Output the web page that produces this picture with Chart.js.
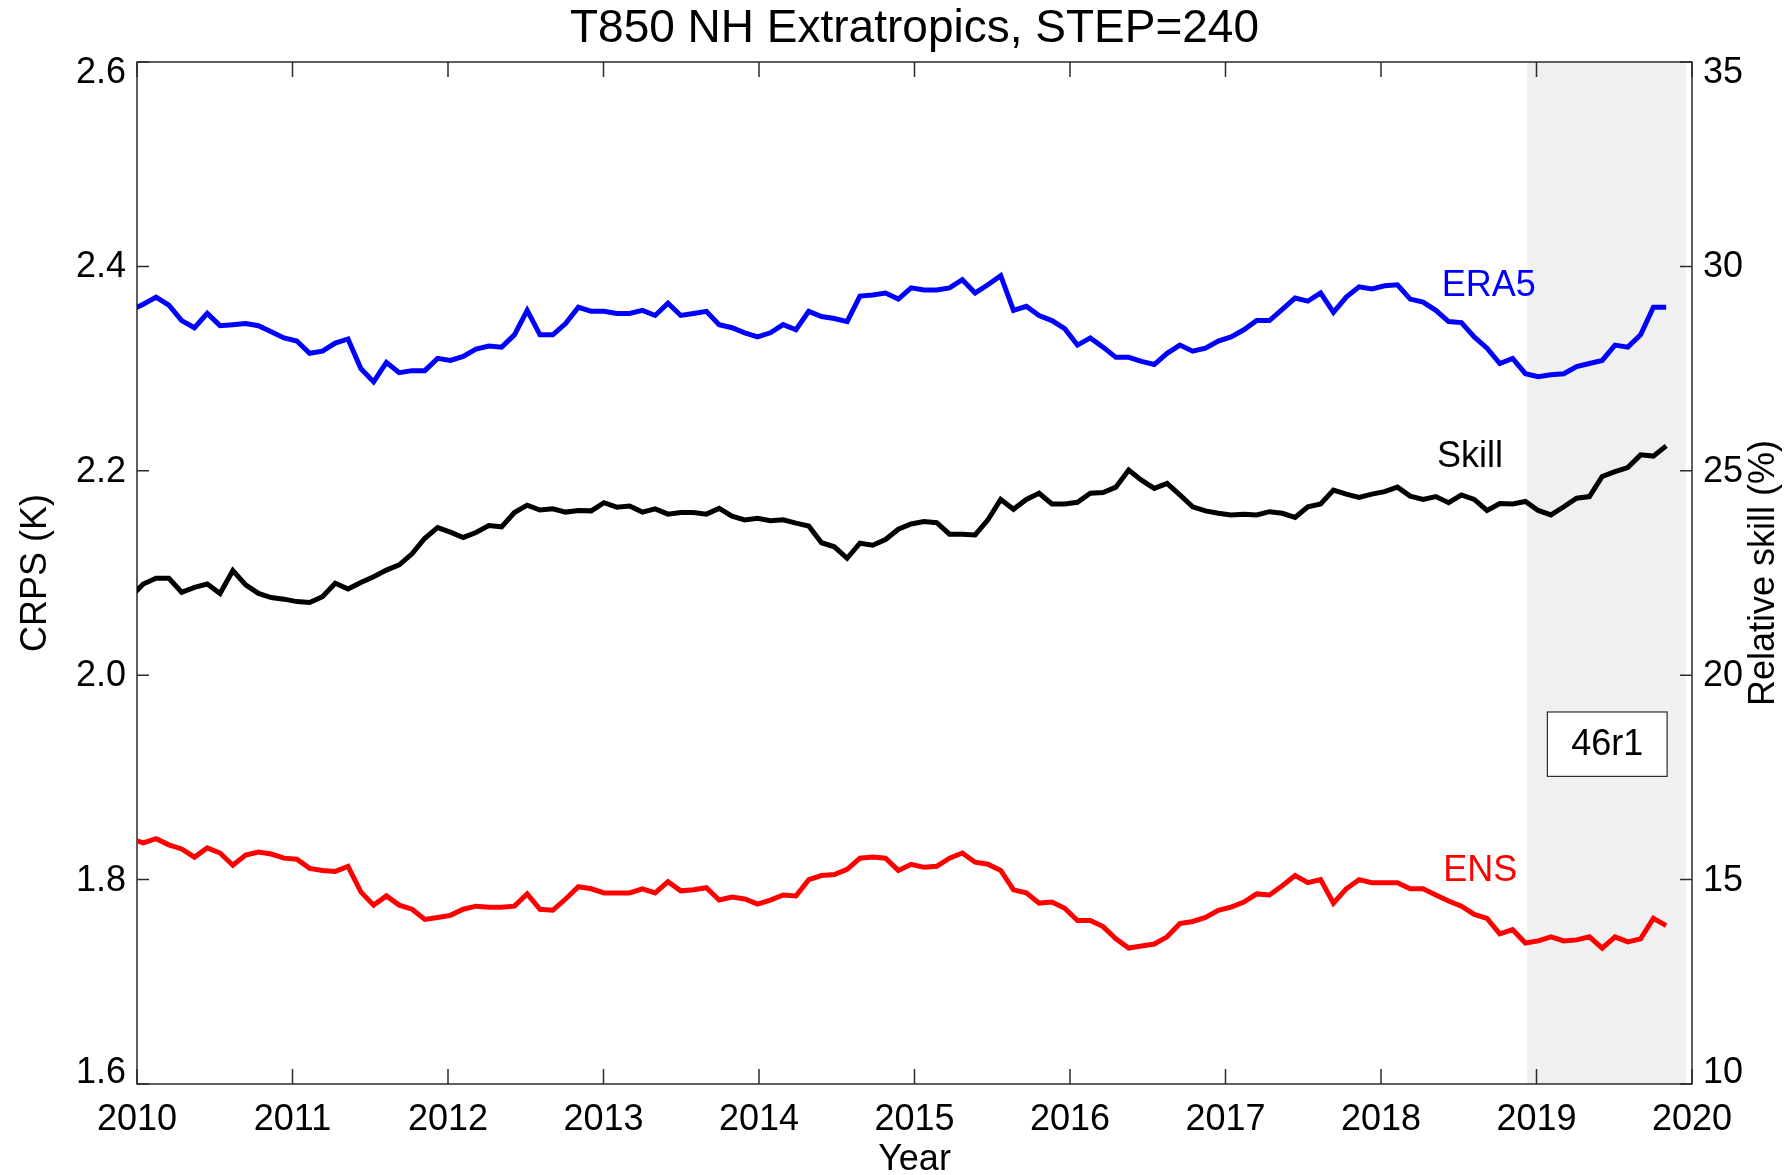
<!DOCTYPE html>
<html>
<head>
<meta charset="utf-8">
<title>T850 NH Extratropics, STEP=240</title>
<script src="https://cdn.jsdelivr.net/npm/chart.js@4.4.1/dist/chart.umd.min.js"></script>
<style>
  html, body { margin: 0; padding: 0; background: #fff; }
  #wrap { width: 1791px; height: 1175px; }
</style>
</head>
<body>
<div id="wrap"><canvas id="crpsChart"></canvas></div>
<script>
const firstSample = 2009.958;
const sampleStep = 0.0823;

const era5 = [
  2.357, 2.363, 2.370, 2.362, 2.347, 2.340, 2.354, 2.342, 2.343, 2.344, 2.342, 2.336,
  2.330, 2.327, 2.315, 2.317, 2.325, 2.329, 2.300, 2.287, 2.306, 2.296, 2.298, 2.298,
  2.310, 2.308, 2.312, 2.319, 2.322, 2.321, 2.333, 2.357, 2.333, 2.333, 2.344, 2.360,
  2.356, 2.356, 2.354, 2.354, 2.357, 2.352, 2.364, 2.352, 2.354, 2.356, 2.343, 2.340,
  2.335, 2.331, 2.335, 2.343, 2.338, 2.356, 2.351, 2.349, 2.346, 2.371, 2.372, 2.374,
  2.368, 2.379, 2.377, 2.377, 2.379, 2.387, 2.374, 2.382, 2.391, 2.357, 2.361, 2.352,
  2.347, 2.339, 2.323, 2.330, 2.321, 2.311, 2.311, 2.307, 2.304, 2.315, 2.323, 2.317,
  2.320, 2.327, 2.331, 2.338, 2.347, 2.347, 2.358, 2.369, 2.366, 2.374, 2.355, 2.370,
  2.380, 2.378, 2.381, 2.382, 2.368, 2.365, 2.357, 2.346, 2.345, 2.331, 2.320, 2.305,
  2.310, 2.295, 2.292, 2.294, 2.295, 2.302, 2.305, 2.308, 2.323, 2.321, 2.333, 2.360,
  2.360
];

const ens = [
  1.840, 1.836, 1.840, 1.834, 1.830, 1.822, 1.831, 1.826, 1.814, 1.824, 1.827, 1.825,
  1.821, 1.820, 1.811, 1.809, 1.808, 1.813, 1.788, 1.775, 1.784, 1.775, 1.771, 1.761,
  1.763, 1.765, 1.771, 1.774, 1.773, 1.773, 1.774, 1.786, 1.771, 1.770, 1.781, 1.793,
  1.791, 1.787, 1.787, 1.787, 1.791, 1.787, 1.798, 1.789, 1.790, 1.792, 1.780, 1.783,
  1.781, 1.776, 1.780, 1.785, 1.784, 1.800, 1.804, 1.805, 1.810, 1.821, 1.822, 1.821,
  1.809, 1.815, 1.812, 1.813, 1.821, 1.826, 1.817, 1.815, 1.809, 1.790, 1.787, 1.777,
  1.778, 1.772, 1.760, 1.760, 1.754, 1.742, 1.733, 1.735, 1.737, 1.744, 1.757, 1.759,
  1.763, 1.770, 1.773, 1.778, 1.786, 1.785, 1.794, 1.804, 1.797, 1.800, 1.777, 1.791,
  1.800, 1.797, 1.797, 1.797, 1.791, 1.791, 1.785, 1.779, 1.774, 1.766, 1.762, 1.747,
  1.751, 1.738, 1.740, 1.744, 1.740, 1.741, 1.744, 1.733, 1.744, 1.739, 1.742, 1.762,
  1.755
];

const skill = [
  21.91, 22.23, 22.37, 22.37, 22.03, 22.15, 22.23, 22.00, 22.56, 22.21, 22.00, 21.90,
  21.86, 21.80, 21.78, 21.92, 22.25, 22.11, 22.27, 22.41, 22.57, 22.70, 22.97, 23.35,
  23.61, 23.50, 23.37, 23.49, 23.66, 23.63, 23.98, 24.16, 24.04, 24.07, 23.99, 24.03,
  24.02, 24.22, 24.11, 24.14, 23.99, 24.07, 23.94, 23.98, 23.98, 23.94, 24.08, 23.89,
  23.80, 23.84, 23.78, 23.80, 23.72, 23.65, 23.24, 23.14, 22.86, 23.23, 23.18, 23.32,
  23.57, 23.70, 23.76, 23.73, 23.45, 23.45, 23.43, 23.80, 24.30, 24.06, 24.30, 24.45,
  24.19, 24.19, 24.23, 24.45, 24.47, 24.60, 25.02, 24.77, 24.57, 24.69, 24.41, 24.12,
  24.02, 23.96, 23.92, 23.94, 23.92, 24.00, 23.96, 23.86, 24.12, 24.19, 24.53, 24.43,
  24.35, 24.43, 24.49, 24.60, 24.38, 24.30, 24.37, 24.22, 24.41, 24.30, 24.03, 24.20,
  24.19, 24.25, 24.03, 23.92, 24.12, 24.33, 24.37, 24.86, 24.98, 25.08, 25.39, 25.36,
  25.61
];

const yearTicks = [2010, 2011, 2012, 2013, 2014, 2015, 2016, 2017, 2018, 2019, 2020];
const crpsTicks = [1.6, 1.8, 2.0, 2.2, 2.4, 2.6];
const skillTicks = [10, 15, 20, 25, 30, 35];

const shadedPeriod = [2018.94, 2019.96];
const cycleLabel = '46r1';
const cycleBoxYears = [2019.07, 2019.84];
const cycleBoxCrps = [1.901, 1.964];

const seriesNames = ['ERA5', 'Skill', 'ENS'];
const seriesColors = ['#0000ff', '#000000', '#ff0000'];
const nameYears = [2018.39, 2018.36, 2018.40];
const nameCrps = [2.382, 2.214, 1.809];

const fontFamily = '"Liberation Sans", Arial, Helvetica, sans-serif';
const axisColor = '#2b2b2b';

const years = era5.map((v, i) => firstSample + i * sampleStep);
const toPoints = values => values.map((v, i) => ({ x: years[i], y: v }));

const frame = {
  id: 'frame',
  beforeDatasetsDraw(chart) {
    const { ctx, chartArea: a, scales } = chart;
    ctx.save();
    const s0 = scales.x.getPixelForValue(shadedPeriod[0]);
    const s1 = scales.x.getPixelForValue(shadedPeriod[1]);
    ctx.fillStyle = '#f0f0f0';
    ctx.fillRect(s0, a.top, s1 - s0, a.bottom - a.top);

    ctx.strokeStyle = axisColor;
    ctx.lineWidth = 1.5;
    ctx.strokeRect(a.left, a.top, a.right - a.left, a.bottom - a.top);
    ctx.beginPath();
    scales.x.ticks.forEach(t => {
      const px = scales.x.getPixelForValue(t.value);
      ctx.moveTo(px, a.bottom); ctx.lineTo(px, a.bottom - 15);
      ctx.moveTo(px, a.top); ctx.lineTo(px, a.top + 15);
    });
    scales.y.ticks.forEach(t => {
      const py = scales.y.getPixelForValue(t.value);
      ctx.moveTo(a.left, py); ctx.lineTo(a.left + 12, py);
    });
    scales.y1.ticks.forEach(t => {
      const py = scales.y1.getPixelForValue(t.value);
      ctx.moveTo(a.right, py); ctx.lineTo(a.right - 12, py);
    });
    ctx.stroke();
    ctx.restore();
  },
  afterDatasetsDraw(chart) {
    const { ctx, chartArea: a, scales } = chart;
    ctx.save();

    // white box with the cycle name
    const bx0 = scales.x.getPixelForValue(cycleBoxYears[0]);
    const bx1 = scales.x.getPixelForValue(cycleBoxYears[1]);
    const by0 = scales.y.getPixelForValue(cycleBoxCrps[1]);
    const by1 = scales.y.getPixelForValue(cycleBoxCrps[0]);
    ctx.fillStyle = '#ffffff';
    ctx.fillRect(bx0, by0, bx1 - bx0, by1 - by0);
    ctx.strokeStyle = axisColor;
    ctx.lineWidth = 1.2;
    ctx.strokeRect(bx0, by0, bx1 - bx0, by1 - by0);
    ctx.fillStyle = '#000';
    ctx.font = '36px ' + fontFamily;
    ctx.textAlign = 'center';
    ctx.textBaseline = 'middle';
    ctx.fillText(cycleLabel, (bx0 + bx1) / 2, (by0 + by1) / 2 + 1);

    // series names next to the lines
    ctx.textAlign = 'left';
    seriesNames.forEach((name, i) => {
      ctx.fillStyle = seriesColors[i];
      ctx.fillText(name, scales.x.getPixelForValue(nameYears[i]), scales.y.getPixelForValue(nameCrps[i]) + 1);
    });

    // y tick labels, end labels pulled inside like the original
    ctx.fillStyle = '#000';
    const yLabel = (scale, t, x, align, digits) => {
      let py = scale.getPixelForValue(t.value);
      py = Math.min(Math.max(py, a.top + 10), a.bottom - 12);
      ctx.textAlign = align;
      ctx.fillText(t.value.toFixed(digits), x, py + 1);
    };
    scales.y.ticks.forEach(t => yLabel(scales.y, t, a.left - 11, 'right', 1));
    scales.y1.ticks.forEach(t => yLabel(scales.y1, t, a.right + 11, 'left', 0));

    // titles
    ctx.textBaseline = 'alphabetic';
    ctx.textAlign = 'center';
    ctx.fillText('Year', (a.left + a.right) / 2, 1170);
    ctx.font = '46px ' + fontFamily;
    ctx.fillText('T850 NH Extratropics, STEP=240', (a.left + a.right) / 2, 42);

    ctx.font = '36px ' + fontFamily;
    const midY = (a.top + a.bottom) / 2;
    ctx.translate(46, midY);
    ctx.rotate(-Math.PI / 2);
    ctx.fillText('CRPS (K)', 0, 0);
    ctx.setTransform(1, 0, 0, 1, 0, 0);
    ctx.translate(1774, midY);
    ctx.rotate(-Math.PI / 2);
    ctx.fillText('Relative skill (%)', 0, 0);
    ctx.restore();
  }
};

const lineStyle = color => ({
  borderColor: color,
  backgroundColor: color,
  borderWidth: 5,
  pointRadius: 0,
  tension: 0,
  fill: false,
  clip: 0
});

new Chart(document.getElementById('crpsChart'), {
  type: 'line',
  data: {
    datasets: [
      { label: 'ERA5', data: toPoints(era5), yAxisID: 'y', ...lineStyle(seriesColors[0]) },
      { label: 'Skill', data: toPoints(skill), yAxisID: 'y1', ...lineStyle(seriesColors[1]) },
      { label: 'ENS', data: toPoints(ens), yAxisID: 'y', ...lineStyle(seriesColors[2]) }
    ]
  },
  options: {
    responsive: true,
    maintainAspectRatio: false,
    animation: false,
    devicePixelRatio: 1,
    layout: { padding: { top: 62, left: 0, right: 0, bottom: 0 } },
    plugins: {
      legend: { display: false },
      tooltip: { enabled: false },
      title: { display: false }
    },
    scales: {
      x: {
        type: 'linear',
        min: 2010,
        max: 2020,
        afterBuildTicks: s => { s.ticks = yearTicks.map(v => ({ value: v })); },
        afterFit: s => { s.height = 91; },
        grid: { display: false, drawTicks: false },
        border: { display: false },
        ticks: {
          color: '#000',
          padding: 14,
          maxRotation: 0,
          autoSkip: false,
          font: { family: fontFamily, size: 36 },
          callback: v => String(v)
        }
      },
      y: {
        position: 'left',
        min: 1.6,
        max: 2.6,
        afterBuildTicks: s => { s.ticks = crpsTicks.map(v => ({ value: v })); },
        afterFit: s => { s.width = 137; },
        grid: { display: false, drawTicks: false },
        border: { display: false },
        ticks: { display: false }
      },
      y1: {
        position: 'right',
        min: 10,
        max: 35,
        afterBuildTicks: s => { s.ticks = skillTicks.map(v => ({ value: v })); },
        afterFit: s => { s.width = 99; },
        grid: { display: false, drawTicks: false },
        border: { display: false },
        ticks: { display: false }
      }
    }
  },
  plugins: [frame]
});
</script>
</body>
</html>
